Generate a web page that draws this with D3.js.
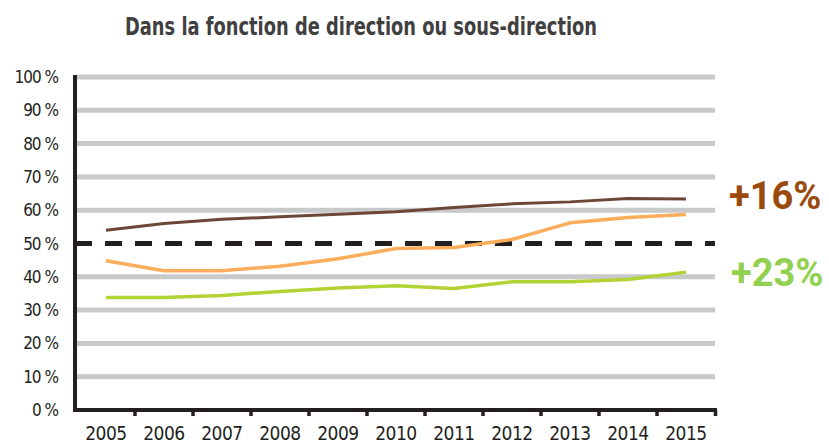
<!DOCTYPE html>
<html><head><meta charset="utf-8">
<script src="https://cdn.jsdelivr.net/npm/d3@7"></script>
<style>
body{margin:0;background:#fff;}
text{font-family:"Liberation Sans Narrow","DejaVu Sans Condensed","Open Sans",sans-serif;}
</style></head>
<body><svg id="c" width="829" height="445"></svg>
<script>
const years = ["2005","2006","2007","2008","2009","2010","2011","2012","2013","2014","2015"];
const brown = [54,56,57.3,58,58.8,59.5,60.8,61.9,62.5,63.5,63.4];
const orange = [44.8,41.8,41.8,43.2,45.4,48.5,48.8,51.2,56.2,57.8,58.7];
const green = [33.8,33.8,34.4,35.6,36.6,37.3,36.5,38.5,38.5,39.2,41.4];
const yTicks = [0,10,20,30,40,60,70,80,90,100];
const refValue = 50;
const title = "Dans la fonction de direction ou sous-direction";
const annotations = [{text:"+16%", color:"#9a4a0e", value:64.3},{text:"+23%", color:"#92d050", value:41.1}];

const svg = d3.select("#c");
const x = d3.scaleBand().domain(years).range([77,715]);
const y = d3.scaleLinear().domain([0,100]).range([410,77]);

svg.append("text").attr("x",361).attr("y",35).attr("text-anchor","middle")
  .attr("font-size",24).attr("font-weight","bold").attr("fill","#404040")
  .attr("textLength",472).attr("lengthAdjust","spacingAndGlyphs").text(title);

// grid
svg.append("g").selectAll("line").data(yTicks.filter(d=>d>0)).join("line")
  .attr("x1",77).attr("x2",715).attr("y1",d=>y(d)).attr("y2",d=>y(d))
  .attr("stroke","#c8c9cb").attr("stroke-width",5);
// 50% dashed
svg.append("line").attr("x1",75).attr("x2",715).attr("y1",y(refValue)).attr("y2",y(refValue))
  .attr("stroke","#231f20").attr("stroke-width",5).attr("stroke-dasharray","17,13");

// y labels
svg.append("g").selectAll("text").data(yTicks.concat([50])).join("text")
  .attr("x",58).attr("y",d=>y(d)+6).attr("text-anchor","end")
  .attr("font-size",17).attr("fill","#231f20").attr("letter-spacing","-1")
  .text(d=>d+" %");

// lines
const line = d3.line().x((d,i)=>x(years[i])+x.bandwidth()/2).y(d=>y(d));
[[brown,"#6e4637",3],[orange,"#fbad5c",3.5],[green,"#b3d335",3.5]].forEach(([data,col,w])=>{
  svg.append("path").datum(data).attr("d",line).attr("fill","none")
    .attr("stroke",col).attr("stroke-width",w).attr("stroke-linejoin","round");
});

// axes
svg.append("line").attr("x1",75).attr("x2",75).attr("y1",y(100)-2).attr("y2",412)
  .attr("stroke","#231f20").attr("stroke-width",4);
const gx = svg.append("g").attr("transform","translate(0,410)");
gx.append("line").attr("x1",73).attr("x2",717).attr("y1",0).attr("y2",0)
  .attr("stroke","#231f20").attr("stroke-width",4);
gx.selectAll("line.t").data(years.slice(1).concat(["end"])).join("line").attr("class","t")
  .attr("x1",d=>d==="end"?715.5:x(d)).attr("x2",d=>d==="end"?715.5:x(d))
  .attr("y1",0).attr("y2",6).attr("stroke","#231f20").attr("stroke-width",3.5);
gx.selectAll("text.yr").data(years).join("text").attr("class","yr")
  .attr("x",d=>x(d)+x.bandwidth()/2).attr("y",30).attr("text-anchor","middle")
  .attr("font-size",19).attr("fill","#231f20").attr("letter-spacing","-0.5").text(d=>d);

// annotations
svg.append("g").selectAll("text").data(annotations).join("text")
  .attr("x",(d,i)=>i===0?729:731).attr("y",d=>y(d.value)+13)
  .style("font-family","Roboto, Lato, sans-serif")
  .attr("font-weight","bold").attr("font-size",38).attr("fill",d=>d.color).text(d=>d.text);
</script></body></html>
